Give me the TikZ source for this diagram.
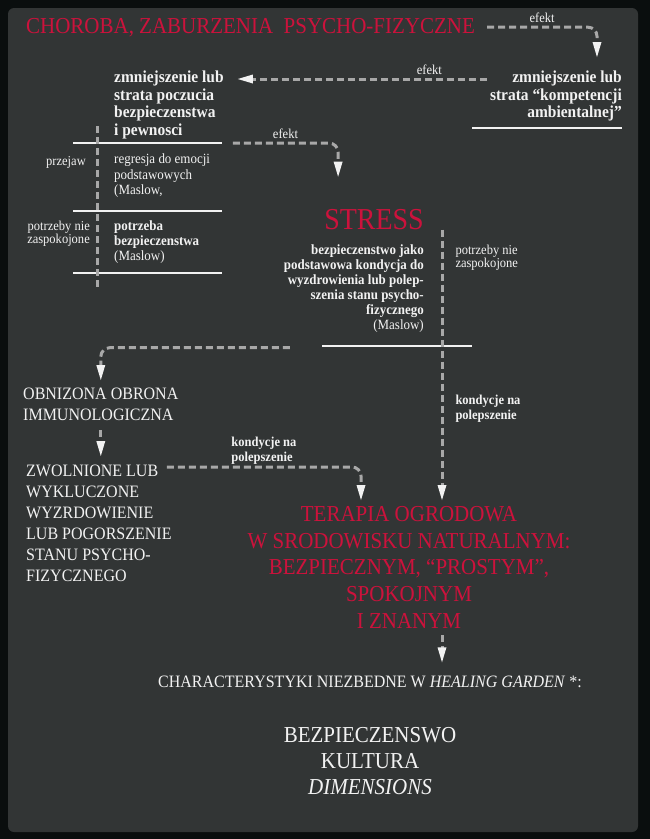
\documentclass[tikz,border=0pt]{standalone}
\usepackage{fontspec}
\setmainfont{Liberation Serif}[FakeStretch=0.92]
\usepackage{tikz}
\usetikzlibrary{arrows.meta, positioning}
\definecolor{tlo}{RGB}{10,14,14}
\definecolor{panel}{RGB}{50,53,53}
\definecolor{czerwony}{RGB}{204,18,60}
\definecolor{szary}{RGB}{168,168,168}
\definecolor{bialy}{RGB}{242,242,242}

\begin{document}
\begin{tikzpicture}[
			x=1pt, y=-1pt,
			tytul/.style={font=\fontsize{22.8}{25}\selectfont, text=czerwony, inner sep=0pt},
			gruby/.style={font=\bfseries\fontsize{16.8}{17.5}\selectfont, text=bialy, inner sep=0pt, align=left},
			opis/.style={font=\fontsize{14.1}{15.5}\selectfont, text=bialy, inner sep=0pt, align=left},
			opisgruby/.style={font=\bfseries\fontsize{14.1}{15}\selectfont, text=bialy, inner sep=0pt, align=left},
			duzy/.style={font=\fontsize{17.4}{21}\selectfont, text=bialy, inner sep=0pt, align=left},
			napis/.style={font=\fontsize{17.4}{20}\selectfont, text=bialy, inner sep=0pt},
			etykieta/.style={font=\fontsize{13.6}{12}\selectfont, text=bialy, inner sep=0pt},
			etykietagruba/.style={font=\bfseries\fontsize{13.6}{15}\selectfont, text=bialy, inner sep=0pt},
			strzalka/.style={draw=szary, line width=3pt, dash pattern=on 7pt off 4pt, rounded corners=9pt, -{Triangle[length=16pt, width=8pt, color=bialy]}},
			przerywana/.style={draw=szary, line width=3pt, dash pattern=on 7pt off 4pt},
			kreska/.style={draw=bialy, line width=2pt}
		]
		\useasboundingbox (0,0) rectangle (650,839);
		\fill[tlo] (0,0) rectangle (650,839);
		\fill[panel, rounded corners=6pt] (8,8) rectangle (638,832);

		% Wezly gorne
		\node[tytul, anchor=base west] (choroba) at (26,33) {CHOROBA, ZABURZENIA\ \ PSYCHO-FIZYCZNE};
		\node[gruby, align=right, anchor=north east] (kompetencje) at (622,71) {zmniejszenie lub\\strata “kompetencji\\ambientalnej”};
		\node[gruby, anchor=north west] (poczucie) at (114,71) {zmniejszenie lub\\strata poczucia\\bezpieczenstwa\\i pewnosci};

		% Kolumna lewa (tabelka)
		\node[opis, anchor=north west] (regresja) at (114,154) {regresja do emocji\\podstawowych\\(Maslow,};
		\node[opisgruby, anchor=north west] (potrzeba) at (114,221) {potrzeba\\bezpieczenstwa\\{\mdseries(Maslow)}};
		\node[etykieta, anchor=base east] (przejaw) at (86,165) {przejaw};
		\node[etykieta, align=right, anchor=north east] (niezaspokojone) at (90,220.5) {potrzeby nie\\zaspokojone};
		\foreach \y in {143,211,273}
			\draw[kreska] (73,\y) -- (222,\y);
		\draw[przerywana] (97,126) -- (97,290);
		\draw[kreska] (472,128) -- (622,128);

		% Srodek
		\node[tytul, font=\fontsize{30.4}{30}\selectfont, anchor=base east] (stress) at (424,229) {STRESS};
		\node[opisgruby, align=right, below left=15pt and 0pt of stress.south east] (warunek) {bezpieczenstwo jako\\podstawowa kondycja do\\wyzdrowienia lub polep-\\szenia stanu psycho-\\fizycznego\\{\mdseries(Maslow)}};
		\draw[kreska] (322,346) -- (472,346);

		% Wezly dolne
		\node[duzy, anchor=north west] (obnizona) at (23,388) {OBNIZONA OBRONA\\IMMUNOLOGICZNA};
		\node[duzy, anchor=north west] (zwolnione) at (26,465) {ZWOLNIONE LUB\\WYKLUCZONE\\WYZRDOWIENIE\\LUB POGORSZENIE\\STANU PSYCHO-\\FIZYCZNEGO};
		\node[tytul, font=\fontsize{22.8}{26.7}\selectfont, align=center, anchor=north] (terapia) at (409,506) {TERAPIA OGRODOWA\\W SRODOWISKU NATURALNYM:\\BEZPIECZNYM, “PROSTYM”,\\SPOKOJNYM\\I ZNANYM};
		\node[napis, anchor=base] (charakt) at (370,687) {CHARACTERYSTYKI NIEZBEDNE W \textit{HEALING GARDEN} *:};
		\node[napis, font=\fontsize{22.8}{26}\selectfont, align=center, below=40pt of charakt] (cechy) {BEZPIECZENSWO\\KULTURA\\\textit{DIMENSIONS}};

		\coordinate (pion) at ([xshift=18pt]stress.south east);
		\coordinate (dol) at ([xshift=33pt]terapia.south);

		% Strzalki
		\draw[strzalka] ([xshift=12pt]choroba.east) -| node[pos=0.25, above=3pt, etykieta] {efekt} ([xshift=-25pt, yshift=13pt]kompetencje.north east);
		\draw[strzalka] ([xshift=-3pt, yshift=-8pt]kompetencje.north west) -- node[pos=0.23, above=3pt, etykieta] {efekt} ([xshift=13pt, yshift=-8pt]poczucie.north east);
		\draw[strzalka] ([xshift=9pt, yshift=-4pt]poczucie.south east) -| node[pos=0.25, above=3pt, etykieta] {efekt} ([xshift=14pt, yshift=31pt]stress.north west);
		\draw[strzalka, shorten >=5pt] (pion) -- node[pos=0.103, right=12pt, etykieta, align=left] {potrzeby nie\\zaspokojone} node[pos=0.65, right=12pt, etykietagruba, align=left] {kondycje na\\polepszenie} (pion |- terapia.north);
		\draw[strzalka, shorten >=7pt] ([xshift=6pt, yshift=-15pt]warunek.south west) -| (obnizona.north);
		\draw[strzalka, shorten <=9pt, shorten >=8pt] (obnizona.south) -- (obnizona.south |- zwolnione.north);
		\draw[strzalka, shorten >=5pt] ([xshift=-5pt, yshift=-2pt]zwolnione.north east) -| node[pos=0.25, above=1pt, etykietagruba, align=left] {kondycje na\\polepszenie} ([xshift=-48pt]terapia.north);
		\draw[strzalka, shorten <=7pt, shorten >=12pt] (dol) -- (dol |- charakt.north);
	\end{tikzpicture}
\end{document}
